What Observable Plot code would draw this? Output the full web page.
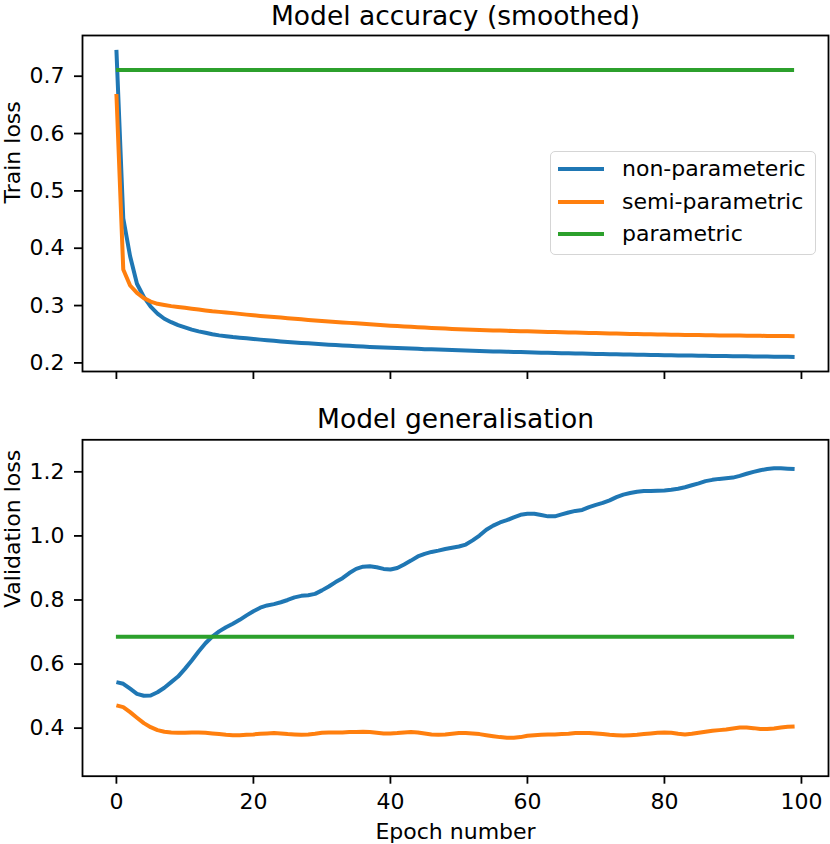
<!DOCTYPE html>
<html>
<head>
<meta charset="utf-8">
<script src="https://cdn.jsdelivr.net/npm/d3@7"></script>
<script src="https://cdn.jsdelivr.net/npm/@observablehq/plot@0.6"></script>
<style>
  body { margin: 0; background: #fff; }
  #fig { position: relative; width: 830px; height: 844px; font-family: "DejaVu Sans", sans-serif; background: #fff; }
  #fig svg { position: absolute; left: 0; overflow: visible; }
  .legend { position: absolute; left: 550px; top: 151px; width: 264px; height: 102px;
    border: 1.8px solid #d5d5d5; border-radius: 5px; background: rgba(255,255,255,0.8); box-sizing: content-box; }
  .legend .row { position: absolute; left: 0; height: 0; }
  .legend .swatch { position: absolute; left: 7px; width: 46px; height: 4px; top: -2px; }
  .legend .lab { position: absolute; left: 71px; top: -13px; font-size: 22px; line-height: 26px; white-space: nowrap; color: #000; }
</style>
</head>
<body>
<div id="fig"></div>
<script>
// ---- data ----
const seriesNames = ["non-parameteric", "semi-parametric", "parametric"];
const seriesColors = ["#1f77b4", "#ff7f0e", "#2ca02c"];
const xTicks = [0, 20, 40, 60, 80, 100];
const trainTicks = [0.2, 0.3, 0.4, 0.5, 0.6, 0.7];
const validTicks = [0.4, 0.6, 0.8, 1.0, 1.2];
const titles = ["Model accuracy (smoothed)", "Model generalisation"];
const yLabels = ["Train loss", "Validation loss"];
const xLabel = "Epoch number";

const epochs = d3.range(100);

const trainNonParam = [
  0.746, 0.452, 0.386, 0.338, 0.315, 0.298, 0.286, 0.277, 0.271, 0.266,
  0.262, 0.258, 0.255, 0.2525, 0.250, 0.248, 0.2465, 0.245, 0.2438, 0.2428,
  0.2418, 0.2406, 0.2395, 0.2385, 0.2375, 0.2366, 0.2357, 0.2349, 0.2341, 0.2333,
  0.2325, 0.2318, 0.2311, 0.2304, 0.2297, 0.229, 0.2284, 0.2278, 0.2273, 0.2269,
  0.2265, 0.226, 0.2255, 0.225, 0.2245, 0.224, 0.2236, 0.2232, 0.2228, 0.2224,
  0.222, 0.2216, 0.2212, 0.2208, 0.2204, 0.220, 0.2197, 0.2194, 0.2191, 0.2188,
  0.2185, 0.2182, 0.2179, 0.2176, 0.2173, 0.217, 0.2168, 0.2165, 0.2162, 0.216,
  0.2157, 0.2155, 0.2152, 0.215, 0.2147, 0.2145, 0.2143, 0.2141, 0.2138, 0.2136,
  0.2134, 0.2132, 0.213, 0.2129, 0.2127, 0.2125, 0.2123, 0.2122, 0.212, 0.2119,
  0.2117, 0.2116, 0.2114, 0.2113, 0.2112, 0.211, 0.2109, 0.2108, 0.2107, 0.2105
];
const trainSemiParam = [
  0.669, 0.363, 0.335, 0.322, 0.313, 0.307, 0.303, 0.301, 0.299, 0.2975,
  0.296, 0.2945, 0.293, 0.2915, 0.290, 0.289, 0.288, 0.2868, 0.2855, 0.2842,
  0.283, 0.282, 0.281, 0.280, 0.279, 0.278, 0.277, 0.276, 0.275, 0.274,
  0.273, 0.2722, 0.2714, 0.2706, 0.2698, 0.269, 0.2682, 0.2674, 0.2666, 0.2658,
  0.265, 0.2643, 0.2636, 0.2629, 0.2622, 0.2616, 0.261, 0.2604, 0.2598, 0.2592,
  0.2587, 0.2582, 0.2578, 0.2574, 0.257, 0.2566, 0.2563, 0.2559, 0.2556, 0.2554,
  0.2552, 0.2548, 0.2545, 0.2541, 0.2538, 0.2535, 0.2532, 0.2529, 0.2526, 0.2523,
  0.252, 0.2517, 0.2514, 0.2511, 0.2508, 0.2505, 0.2503, 0.2501, 0.2498, 0.2496,
  0.2494, 0.2492, 0.249, 0.2488, 0.2487, 0.2485, 0.2483, 0.2481, 0.248, 0.2478,
  0.2477, 0.2476, 0.2474, 0.2473, 0.2472, 0.247, 0.2469, 0.2468, 0.2467, 0.2465
];
const trainParam = 0.711;

const validNonParam = [
  0.5435, 0.5385, 0.523, 0.507, 0.501, 0.502, 0.512, 0.526, 0.5435, 0.561,
  0.585, 0.611, 0.639, 0.665, 0.686, 0.702, 0.715, 0.726, 0.738, 0.752,
  0.765, 0.776, 0.783, 0.787, 0.793, 0.800, 0.808, 0.813, 0.815, 0.819,
  0.830, 0.842, 0.856, 0.868, 0.884, 0.897, 0.904, 0.905, 0.902, 0.897,
  0.895, 0.900, 0.911, 0.923, 0.936, 0.944, 0.950, 0.954, 0.959, 0.963,
  0.967, 0.973, 0.986, 1.001, 1.019, 1.032, 1.042, 1.049, 1.058, 1.066,
  1.069, 1.069, 1.065, 1.061, 1.061, 1.067, 1.073, 1.078, 1.081, 1.090,
  1.097, 1.103, 1.111, 1.121, 1.129, 1.134, 1.138, 1.140, 1.140, 1.141,
  1.142, 1.144, 1.147, 1.152, 1.158, 1.164, 1.171, 1.175, 1.178, 1.180,
  1.182, 1.1875, 1.194, 1.200, 1.205, 1.209, 1.211, 1.211, 1.210, 1.209
];
const validSemiParam = [
  0.471, 0.4656, 0.450, 0.4325, 0.4156, 0.403, 0.3938, 0.3888, 0.3866, 0.3856,
  0.3856, 0.3866, 0.3866, 0.3856, 0.3835, 0.3814, 0.3794, 0.378, 0.378, 0.3794,
  0.3804, 0.3825, 0.3835, 0.3845, 0.3835, 0.3814, 0.3804, 0.3794, 0.3804, 0.3825,
  0.3856, 0.3866, 0.3866, 0.3866, 0.3876, 0.3876, 0.3888, 0.3876, 0.3856, 0.3835,
  0.3835, 0.3845, 0.3866, 0.3876, 0.3866, 0.3835, 0.3804, 0.3794, 0.3804, 0.3825,
  0.3845, 0.3845, 0.3835, 0.3814, 0.378, 0.375, 0.372, 0.370, 0.370, 0.372,
  0.3763, 0.378, 0.3794, 0.3804, 0.3804, 0.3814, 0.3825, 0.3845, 0.3845, 0.3845,
  0.3835, 0.3814, 0.3794, 0.378, 0.377, 0.378, 0.3794, 0.3814, 0.3835, 0.3856,
  0.3866, 0.3856, 0.3825, 0.3804, 0.3825, 0.3856, 0.3888, 0.3918, 0.3938, 0.396,
  0.399, 0.402, 0.402, 0.400, 0.397, 0.397, 0.399, 0.402, 0.4044, 0.4054
];
const validParam = 0.685;

// ---- tables ----
function table(a, b) {
  return [
    ...epochs.map((e, i) => ({epoch: e, loss: a[i], series: seriesNames[0]})),
    ...epochs.map((e, i) => ({epoch: e, loss: b[i], series: seriesNames[1]}))
  ];
}
const trainData = table(trainNonParam, trainSemiParam);
const validData = table(validNonParam, validSemiParam);

const LW = 4, SW = 1.8, FS = 22, TFS = 26.5;
const font = "DejaVu Sans";

function panel({data, param, yDomain, yTicks, title, yLabel, height, marginTop, marginBottom, showX, titleDy}) {
  return Plot.plot({
    width: 830, height, marginLeft: 82, marginRight: 2, marginTop, marginBottom,
    style: {fontFamily: font, fontSize: FS + "px", background: "transparent", color: "#000", overflow: "visible"},
    x: {domain: [-4.95, 103.95]},
    y: {domain: yDomain},
    color: {domain: seriesNames, range: seriesColors},
    marks: [
      Plot.line(data, {x: "epoch", y: "loss", z: "series", stroke: "series", strokeWidth: LW, strokeLinecap: "butt", strokeLinejoin: "round"}),
      Plot.ruleY([param], {x1: epochs[0], x2: epochs[epochs.length - 1], stroke: seriesColors[2], strokeWidth: LW}),
      Plot.frame({stroke: "#000", strokeWidth: SW}),
      Plot.axisY({ticks: yTicks, tickSize: 8, tickPadding: 10, tickFormat: d3.format(".1f"), strokeWidth: SW, label: null, fontSize: FS}),
      showX
        ? Plot.axisX({ticks: xTicks, tickSize: 8, tickPadding: 9, tickFormat: d3.format("d"), strokeWidth: SW, label: null, fontSize: FS})
        : Plot.axisX({ticks: xTicks, tickSize: 8, tickFormat: () => "", strokeWidth: SW, label: null}),
      Plot.text([title], {frameAnchor: "top", dy: titleDy, lineAnchor: "bottom", fontSize: TFS, fill: "#000"}),
      Plot.text([yLabel], {frameAnchor: "left", dx: -70, rotate: -90, lineAnchor: "middle", fontSize: FS, fill: "#000"}),
      showX ? Plot.text([xLabel], {frameAnchor: "bottom", dy: 55.3, lineAnchor: "middle", fontSize: FS, fill: "#000"}) : null
    ]
  });
}

const fig = document.getElementById("fig");

const topSvg = panel({data: trainData, param: trainParam, yDomain: [0.185, 0.771], yTicks: trainTicks,
  title: titles[0], yLabel: yLabels[0], height: 400, marginTop: 35, marginBottom: 29, showX: false, titleDy: -11});
topSvg.style.top = "0px";
fig.appendChild(topSvg);

const botSvg = panel({data: validData, param: validParam, yDomain: [0.25, 1.30], yTicks: validTicks,
  title: titles[1], yLabel: yLabels[1], height: 444, marginTop: 39.3, marginBottom: 68.3, showX: true, titleDy: -12.3});
botSvg.style.top = "400px";
fig.appendChild(botSvg);

// legend (HTML overlay on the top panel)
const legend = document.createElement("div");
legend.className = "legend";
const rowTops = [17, 49.7, 82.3];
seriesNames.forEach((name, i) => {
  const row = document.createElement("div");
  row.className = "row";
  row.style.top = rowTops[i] + "px";
  const sw = document.createElement("div");
  sw.className = "swatch";
  sw.style.background = seriesColors[i];
  const lab = document.createElement("div");
  lab.className = "lab";
  lab.textContent = name;
  row.appendChild(sw); row.appendChild(lab);
  legend.appendChild(row);
});
fig.appendChild(legend);
</script>
</body>
</html>
